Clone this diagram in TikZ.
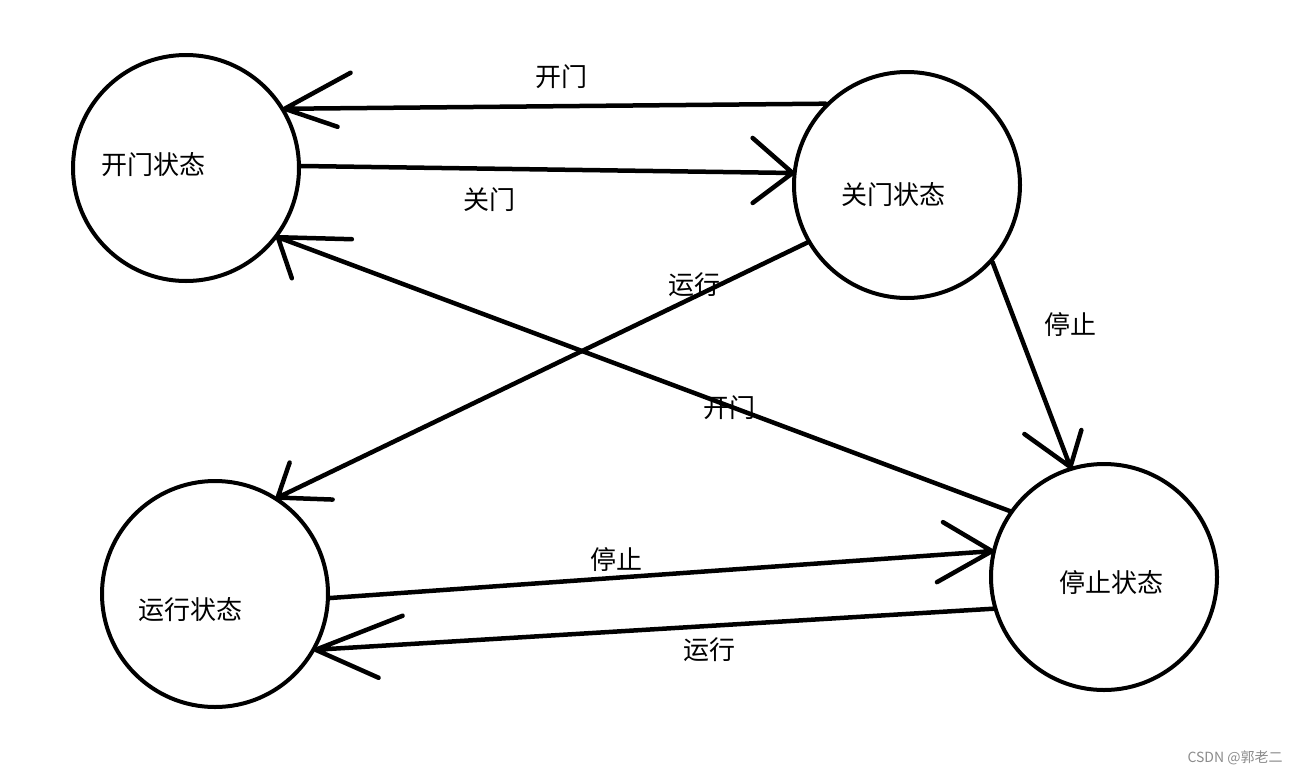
\documentclass[tikz,border=0pt]{standalone}
\usepackage{fontspec}
\setmainfont{Noto Sans CJK SC}
\begin{document}
\begin{tikzpicture}[x=1pt,y=-1pt,
  statecircle/.style={circle,draw,line width=4pt,minimum size=226pt,inner sep=0pt},
  statetext/.style={font=\fontsize{26}{28}\selectfont,inner sep=0pt},
  edgetext/.style={font=\fontsize{26}{28}\selectfont,inner sep=0pt},
  conn/.style={line width=4.5pt,line cap=round,line join=round}]
\fill[white] (0,0) rectangle (1300,774);
\useasboundingbox (0,0) rectangle (1300,774);

\node[statecircle] (O) at (186,168) {};
\node[statecircle] (C) at (907,185) {};
\node[statecircle] (R) at (215,594) {};
\node[statecircle] (S) at (1104,577) {};

\node[statetext] (lO) at (153,165) {开门状态};
\node[statetext] (lC) at (893,195) {关门状态};
\node[statetext] (lR) at (190,610) {运行状态};
\node[statetext] (lS) at (1111,583) {停止状态};

\node[edgetext] (e1) at (561,77) {开门};
\node[edgetext] (e2) at (489,200) {关门};
\node[edgetext] (e3) at (729,408) {开门};
\node[edgetext] (e4) at (694,285) {运行};
\node[edgetext] (e5) at (1070,325) {停止};
\node[edgetext] (e6) at (616,560) {停止};
\node[edgetext] (e7) at (709,650) {运行};

% close -> open (开门)
\draw[conn] (C.135) -- (O.31) -- +(66,-36) (O.31) -- +(53,18);
% open -> close (关门)
\draw[conn] (O.1) -- (C.174) -- +(-40,-35) (C.174) -- +(-40,30);
% stop -> open (开门)
\draw[conn] (S.145) -- (O.-37) -- +(74,2) (O.-37) -- +(14,41);
% close -> run (运行)
\draw[conn] (C.210) -- (R.57) -- +(12,-35) (R.57) -- +(55,2);
% close -> stop (停止)
\draw[conn] (C.-42) -- (S.107) -- +(-46,-33) (S.107) -- +(11,-37);
% run -> stop (停止)
\draw[conn] (R.-2) -- (S.167) -- +(-49,-29) (S.167) -- +(-55,31);
% stop -> run (运行)
\draw[conn] (S.196) -- (R.-29) -- +(87,-34) (R.-29) -- +(63,28);

\node[font=\fontsize{14}{16}\selectfont,text=black!45,inner sep=0pt] (wm) at (1235,758) {CSDN @郭老二};
\end{tikzpicture}
\end{document}
